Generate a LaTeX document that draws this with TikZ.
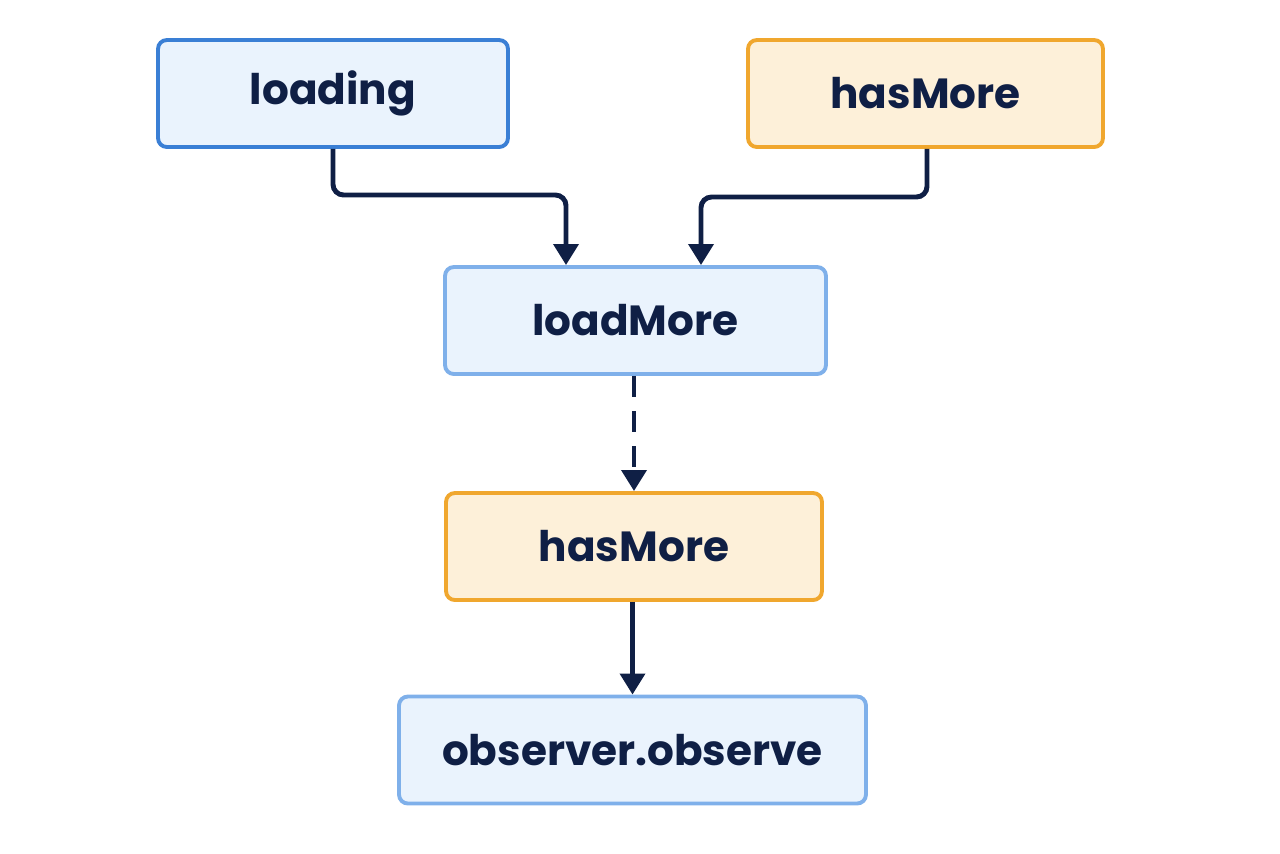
\documentclass[tikz,border=0pt]{standalone}
\usepackage{fontspec}
\setmainfont{Poppins}
\usetikzlibrary{positioning,arrows.meta}

\definecolor{navy}{HTML}{0F1F45}
\definecolor{bluedraw}{HTML}{3A7FD5}
\definecolor{bluelight}{HTML}{7FB0EA}
\definecolor{bluefill}{HTML}{EAF3FD}
\definecolor{orangedraw}{HTML}{F0A72E}
\definecolor{orangefill}{HTML}{FDF0D9}

\begin{document}
\begin{tikzpicture}[x=0.02cm,y=-0.02cm,
	box/.style={draw, line width=2.2pt, rounded corners=5pt, minimum height=2.14cm,
		inner sep=0pt, font=\fontsize{24}{28}\selectfont\bfseries, text=navy},
	bluebox/.style={box, draw=bluelight, fill=bluefill},
	orangebox/.style={box, draw=orangedraw, fill=orangefill},
	link/.style={draw=navy, line width=2.8pt, -{Triangle[length=12pt,width=14pt]}}]

% canvas %{{{2

	\useasboundingbox (0,0) rectangle (1280,853);

% boxes %{{{2

	\node[bluebox, draw=bluedraw, minimum width=7cm] (loading) at (333,93.5) {loading};
	\node[orangebox, minimum width=7.1cm] (hasMoreA) at (925.5,93.5) {hasMore};
	\node[bluebox, minimum width=7.62cm] (loadMore) at (635.5,320.5) {loadMore};
	\node[orangebox, minimum width=7.52cm] (hasMoreB) at (634,546.5) {hasMore};
	\node[bluebox, minimum width=9.34cm] (observe) at (632.5,750) {observer.observe};

% bends %{{{2

	\coordinate (la) at (333,195);
	\coordinate (lb) at (566,195);
	\coordinate (ha) at (927,197);
	\coordinate (hb) at (701,197);

% connectors %{{{2

	\draw[link, rounded corners=6pt] (loading.south -| la) -- (la) -- (lb) -- (lb |- loadMore.north);
	\draw[link, rounded corners=6pt] (hasMoreA.south -| ha) -- (ha) -- (hb) -- (hb |- loadMore.north);
	\draw[link, dash pattern=on 12pt off 8pt] (loadMore.south -| hasMoreB.north) -- (hasMoreB.north);
	\draw[link] (hasMoreB.south -| observe.north) -- (observe.north);

% closing %{{{2

\end{tikzpicture}
\end{document}
